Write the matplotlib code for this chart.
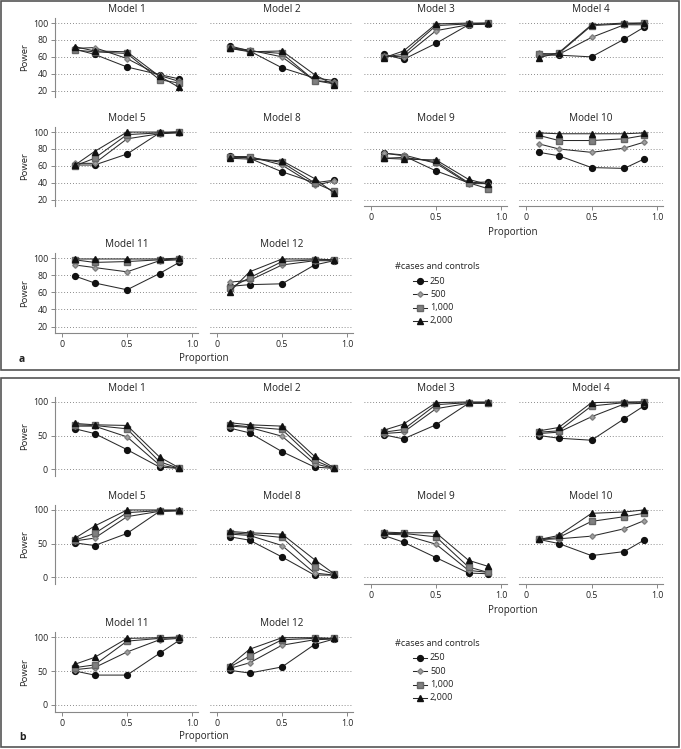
import matplotlib
matplotlib.use("Agg")
import matplotlib.pyplot as plt
from matplotlib.lines import Line2D
from matplotlib.patches import Rectangle

plt.rcParams['font.family'] = ['Open Sans', 'DejaVu Sans']

# proportion of ... (x axis) and sample sizes
proportion = [0.1, 0.25, 0.5, 0.75, 0.9]
sizes = ['250', '500', '1,000', '2,000']

# panel a: rows are 250, 500, 1000, 2000
a_model1 = [[69, 63, 48, 39, 34], [70, 71, 58, 38, 31], [68, 66, 64, 33, 29], [72, 67, 66, 37, 24]]
a_model2 = [[73, 67, 47, 35, 32], [71, 68, 60, 32, 30], [70, 67, 64, 32, 28], [70, 66, 67, 39, 27]]
a_model3 = [[63, 57, 76, 98, 99], [61, 60, 91, 98, 99], [60, 63, 97, 99, 100], [59, 67, 99, 100, 100]]
a_model4 = [[62, 62, 60, 81, 95], [64, 63, 83, 98, 98], [63, 64, 97, 99, 100], [59, 65, 98, 100, 100]]
a_model5 = [[61, 61, 74, 99, 100], [63, 63, 92, 98, 99], [60, 69, 97, 99, 100], [61, 77, 100, 100, 100]]
a_model8 = [[72, 69, 53, 40, 43], [71, 71, 61, 37, 42], [70, 70, 64, 40, 30], [69, 68, 66, 45, 28]]
a_model9 = [[75, 72, 54, 40, 41], [75, 73, 63, 39, 39], [69, 70, 65, 40, 33], [69, 68, 67, 44, 38]]
a_model10 = [[76, 72, 58, 57, 68], [86, 80, 76, 81, 88], [96, 90, 90, 92, 96], [99, 98, 98, 98, 99]]
a_model11 = [[79, 71, 63, 82, 95], [92, 89, 84, 97, 98], [98, 95, 96, 98, 99], [99, 99, 99, 99, 100]]
a_model12 = [[67, 69, 70, 92, 97], [72, 74, 92, 97, 97], [65, 77, 96, 98, 98], [61, 84, 99, 99, 98]]

# panel b
b_model1 = [[60, 53, 29, 3, 1], [64, 64, 48, 6, 1], [66, 65, 60, 11, 1], [68, 66, 65, 18, 2]]
b_model2 = [[61, 54, 26, 3, 1], [64, 62, 49, 8, 1], [66, 63, 59, 13, 1], [69, 66, 64, 19, 2]]
b_model3 = [[51, 45, 66, 98, 99], [53, 55, 90, 98, 98], [55, 59, 96, 99, 99], [58, 67, 99, 100, 100]]
b_model4 = [[50, 46, 43, 75, 94], [53, 55, 78, 97, 98], [55, 57, 94, 99, 100], [57, 62, 99, 100, 100]]
b_model5 = [[51, 47, 65, 98, 99], [54, 58, 90, 98, 99], [55, 65, 96, 99, 99], [58, 76, 100, 100, 100]]
b_model8 = [[60, 55, 30, 3, 3], [64, 62, 47, 6, 3], [66, 64, 59, 15, 4], [68, 66, 64, 26, 5]]
b_model9 = [[62, 52, 29, 6, 5], [64, 63, 49, 10, 7], [65, 65, 60, 15, 7], [67, 66, 66, 25, 16]]
b_model10 = [[56, 50, 32, 38, 55], [56, 57, 61, 72, 84], [56, 59, 83, 90, 95], [56, 62, 95, 97, 100]]
b_model11 = [[50, 44, 44, 76, 95], [52, 55, 78, 96, 98], [55, 59, 94, 98, 99], [60, 70, 98, 99, 100]]
b_model12 = [[51, 47, 56, 89, 97], [54, 62, 88, 96, 97], [56, 72, 96, 98, 98], [58, 82, 99, 99, 98]]

model_grid = [['1', '2', '3', '4'], ['5', '8', '9', '10'], ['11', '12']]
panel_a = {'1': a_model1, '2': a_model2, '3': a_model3, '4': a_model4, '5': a_model5,
           '8': a_model8, '9': a_model9, '10': a_model10, '11': a_model11, '12': a_model12}
panel_b = {'1': b_model1, '2': b_model2, '3': b_model3, '4': b_model4, '5': b_model5,
           '8': b_model8, '9': b_model9, '10': b_model10, '11': b_model11, '12': b_model12}

W, H = 681, 749
fig = plt.figure(figsize=(W / 100, H / 100), dpi=100)

styles = [
    dict(marker='o', ms=4.2, mfc='#111111', mec='#111111'),
    dict(marker='D', ms=2.8, mfc='#a0a0a0', mec='#808080'),
    dict(marker='s', ms=4.0, mfc='#808080', mec='#666666'),
    dict(marker='^', ms=4.4, mfc='#111111', mec='#111111'),
]
line_col = '#2a2a2a'
axis_col = '#888888'
txt_col = '#222222'

cols = [(55, 198), (210, 353), (364, 507), (519, 663)]


def fx(px):
    return px / W


def fy(py):
    return 1 - py / H


def add_ax(left, right, top, bottom):
    return fig.add_axes([fx(left), fy(bottom), (right - left) / W, (bottom - top) / H])


def draw_panel(data, rows, ylim, yticks, off, letter):
    for r, row in enumerate(model_grid):
        top, bottom = rows[r]
        for c, m in enumerate(row):
            ax = add_ax(cols[c][0], cols[c][1], top, bottom)
            for k in range(4):
                ax.plot(proportion, data[m][k], color=line_col, lw=0.75, **styles[k])
            ax.set_xlim(-0.054, 1.046)
            ax.set_ylim(*ylim)
            ax.set_yticks(yticks)
            ax.set_xticks([0, 0.5, 1.0])
            ax.set_xticklabels(['0', '0.5', '1.0'])
            for y in yticks:
                ax.axhline(y, color='#666666', lw=0.6, ls=(0, (1, 2.5)), zorder=0)
            for s in ax.spines.values():
                s.set_visible(False)
            ax.set_facecolor('none')
            ax.tick_params(colors=axis_col, labelcolor=txt_col, labelsize=6.3,
                           length=3, width=0.7, pad=2)
            if c == 0:
                ax.spines['left'].set_visible(True)
                ax.spines['left'].set_color(axis_col)
                ax.spines['left'].set_linewidth(0.8)
                ax.set_ylabel('Power', fontsize=6.8, color=txt_col, labelpad=3)
            else:
                ax.tick_params(axis='y', left=False, labelleft=False)
            bottom_row = (r == 2) or (r == 1 and c >= 2)
            if bottom_row:
                ax.spines['bottom'].set_visible(True)
                ax.spines['bottom'].set_color(axis_col)
                ax.spines['bottom'].set_linewidth(0.8)
            else:
                ax.tick_params(axis='x', bottom=False, labelbottom=False)
            ax.set_title('Model ' + m, fontsize=7.2, color=txt_col, pad=4)

    # x labels
    fig.text(fx(204), fy(off + 359), 'Proportion', ha='center', va='center',
             fontsize=7, color=txt_col)
    fig.text(fx(513), fy(off + 233), 'Proportion', ha='center', va='center',
             fontsize=7, color=txt_col)
    fig.text(fx(22), fy(off + 360), letter, ha='center', va='center',
             fontsize=7.5, fontweight='bold', color=txt_col)

    # legend
    fig.text(fx(395), fy(off + 266), '#cases and controls', ha='left', va='center',
             fontsize=6.6, color=txt_col)
    for k in range(4):
        yy = fy(off + 281 + 13.3 * k)
        fig.add_artist(Line2D([fx(413), fx(427)], [yy, yy], color=line_col, lw=0.75,
                              transform=fig.transFigure))
        fig.add_artist(Line2D([fx(420)], [yy], color=line_col, lw=0,
                              transform=fig.transFigure, **styles[k]))
        fig.text(fx(430), yy, sizes[k], ha='left', va='center', fontsize=6.6, color=txt_col)

    fig.add_artist(Rectangle((fx(1), fy(off + 370)), (678) / W, 369 / H, fill=False,
                             edgecolor='#555555', lw=1.2, transform=fig.transFigure))


draw_panel(panel_a, [(18, 97), (127, 206), (253, 333)], (12.5, 106),
           [20, 40, 60, 80, 100], 0, 'a')
draw_panel(panel_b, [(397, 476), (505, 584), (632, 712)], (-10.3, 107.4),
           [0, 50, 100], 377, 'b')

fig.savefig('out.png', dpi=100)
